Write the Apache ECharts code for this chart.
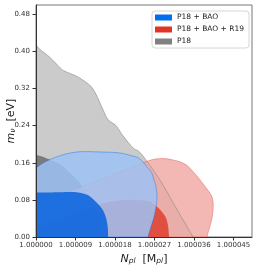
<!DOCTYPE html>
<html><head><meta charset="utf-8">
<script src="https://cdn.jsdelivr.net/npm/echarts@6/dist/echarts.min.js"></script>
<style>html,body{margin:0;padding:0;background:#fff}#c{width:260px;height:270px}</style>
</head><body><div id="c"></div>
<script>
// x values are (N_pl - 1) in units of 1e-6 ; y values are m_nu in eV
const legendNames = ['P18 + BAO', 'P18 + BAO + R19', 'P18'];
const xTicks = [0, 9, 18, 27, 36, 45];
const yTicks = [0, 0.08, 0.16, 0.24, 0.32, 0.40, 0.48];

const p18Outer = [[0,0.415],[0.91,0.404],[3.19,0.387],[5.47,0.365],[6.61,0.357],[9.34,0.346],[11.16,0.335],[12.76,0.322],[13.90,0.303],[15.04,0.279],[16.40,0.253],[18.23,0.240],[19.82,0.218],[22.10,0.192],[23.70,0.182],[26.66,0.145],[28.94,0.112],[31.21,0.074],[33.49,0.037],[35.77,0]];
const p18Inner = [[0,0.177],[2.05,0.171],[4.10,0.163],[5.92,0.154],[7.75,0.138],[9.80,0.119],[11.39,0.097],[13.21,0.071],[14.58,0.041],[15.49,0]];
const r19Outer = [[0,0.069],[25.52,0.164],[27.11,0.168],[29.39,0.169],[31.21,0.166],[32.81,0.162],[34.40,0.154],[35.77,0.141],[37.37,0.123],[38.73,0.106],[39.87,0.091],[40.33,0.076],[40.33,0.058],[40.10,0.041],[39.64,0.024],[39.19,0.009],[38.96,0]];
const r19Inner = [[0,0.019],[3.19,0.030],[6.61,0.043],[10.03,0.056],[13.44,0.067],[16.86,0.076],[20.28,0.080],[23.70,0.079],[25.97,0.076],[27.57,0.065],[28.71,0.054],[29.62,0.041],[30.08,0.024],[30.30,0]];
const baoOuter = [[0,0.149],[1.37,0.158],[2.96,0.166],[4.78,0.173],[6.84,0.179],[9.11,0.183],[11.39,0.184],[15.27,0.183],[18.23,0.182],[20.28,0.179],[21.87,0.175],[23.24,0.171],[24.38,0.162],[25.29,0.151],[26.20,0.141],[26.66,0.130],[27.34,0.108],[27.57,0.086],[27.34,0.065],[26.89,0.043],[26.20,0.022],[25.52,0]];
const baoInner = [[0,0.096],[3.19,0.096],[7.52,0.097],[9.57,0.096],[10.94,0.093],[12.08,0.089],[13.21,0.080],[14.13,0.071],[15.04,0.061],[15.72,0.048],[16.18,0.032],[16.40,0.015],[16.40,0]];
const origin = [0, 0];

// smooth curve through the read points (Catmull-Rom), closed along the axes
function curvePath(api, pts, close) {
  const P = pts.map(p => api.coord(p));
  let d = 'M' + P[0][0] + ' ' + P[0][1];
  for (let i = 0; i < P.length - 1; i++) {
    const p0 = P[Math.max(i - 1, 0)], p1 = P[i], p2 = P[i + 1], p3 = P[Math.min(i + 2, P.length - 1)];
    const c1 = [p1[0] + (p2[0] - p0[0]) / 6, p1[1] + (p2[1] - p0[1]) / 6];
    const c2 = [p2[0] - (p3[0] - p1[0]) / 6, p2[1] - (p3[1] - p1[1]) / 6];
    d += ' C' + c1[0] + ' ' + c1[1] + ' ' + c2[0] + ' ' + c2[1] + ' ' + p2[0] + ' ' + p2[1];
  }
  if (close) {
    const o = api.coord(origin);
    d += ' L' + o[0] + ' ' + o[1] + ' Z';
  }
  return d;
}

function region(name, pts, fill, stroke, lw, straightFirst) {
  return {
    type: 'custom', name: name, coordinateSystem: 'cartesian2d', silent: true, z: 2, clip: true,
    data: [[pts[0][0], pts[0][1]]],
    renderItem: function (params, api) {
      let d;
      if (straightFirst) {
        const a = api.coord(pts[0]);
        d = 'M' + a[0] + ' ' + a[1] + curvePath(api, pts.slice(1), true).replace(/^M/, ' L');
      } else {
        d = curvePath(api, pts, true);
      }
      return { type: 'path', shape: { pathData: d },
        style: { fill: fill, stroke: stroke || null, lineWidth: lw || 0 } };
    }
  };
}
function edge(name, pts, stroke, lw) {
  return {
    type: 'custom', name: name, coordinateSystem: 'cartesian2d', silent: true, z: 2, clip: true,
    data: [[pts[0][0], pts[0][1]]],
    renderItem: function (params, api) {
      return { type: 'path', shape: { pathData: curvePath(api, pts, false) },
        style: { fill: null, stroke: stroke, lineWidth: lw } };
    }
  };
}

const chart = echarts.init(document.getElementById('c'), null, { renderer: 'canvas' });
const tickFont = { fontFamily: 'DejaVu Sans', fontSize: 7, color: '#333' };
chart.setOption({
  animation: false,
  grid: { left: 36, right: 8, top: 5, bottom: 33, outerBoundsMode: 'none', containLabel: false,
    show: true, borderColor: '#777', borderWidth: 1, backgroundColor: 'transparent' },
  legend: {
    show: true, orient: 'vertical', right: 11, top: 11, selectedMode: false,
    itemWidth: 17, itemHeight: 6, itemGap: 3, padding: [2, 5, 2, 3],
    backgroundColor: '#fff', borderColor: '#d6d6d6', borderWidth: 1, borderRadius: 3,
    textStyle: { fontFamily: 'DejaVu Sans', fontSize: 7.5, color: '#222', lineHeight: 9 },
    data: [
      { name: legendNames[0], icon: 'rect', itemStyle: { color: '#006FED' } },
      { name: legendNames[1], icon: 'rect', itemStyle: { color: '#E03424' } },
      { name: legendNames[2], icon: 'rect', itemStyle: { color: '#808080' } }
    ]
  },
  xAxis: {
    type: 'value', min: 0, max: 49.2, z: 10,
    axisLine: { show: true, lineStyle: { color: '#333', width: 1 } },
    axisTick: { show: true, length: 3.5, lineStyle: { color: '#333' }, customValues: xTicks },
    axisLabel: { ...tickFont, margin: 5, customValues: xTicks,
      formatter: v => '1.' + String(Math.round(v)).padStart(6, '0') },
    splitLine: { show: false },
    name: '{i|N}{s|pl}{t|  [M}{s2|pl}{t|]}', nameLocation: 'middle', nameGap: 13,
    nameTextStyle: { rich: {
      i: { fontFamily: 'DejaVu Sans', fontStyle: 'italic', fontSize: 11, color: '#222', verticalAlign: 'bottom', lineHeight: 14 },
      s: { fontFamily: 'DejaVu Sans', fontStyle: 'italic', fontSize: 7.5, color: '#222', verticalAlign: 'bottom', lineHeight: 11 },
      s2: { fontFamily: 'DejaVu Sans', fontStyle: 'italic', fontSize: 7.5, color: '#222', verticalAlign: 'bottom', lineHeight: 11 },
      t: { fontFamily: 'DejaVu Sans', fontSize: 11, color: '#222', verticalAlign: 'bottom', lineHeight: 14 }
    } }
  },
  yAxis: {
    type: 'value', min: 0, max: 0.5, z: 10,
    axisLine: { show: true, lineStyle: { color: '#333', width: 1 } },
    axisTick: { show: true, length: 3.5, lineStyle: { color: '#333' }, customValues: yTicks },
    axisLabel: { ...tickFont, margin: 6, customValues: yTicks, formatter: v => v.toFixed(2) },
    splitLine: { show: false },
    name: '{i|m}{s|ν}{t|  [eV]}', nameLocation: 'middle', nameGap: 26, nameRotate: 90, nameMoveOverlap: false,
    nameTextStyle: { verticalAlign: 'middle', rich: {
      i: { fontFamily: 'DejaVu Sans', fontStyle: 'italic', fontSize: 11, color: '#222', verticalAlign: 'bottom', lineHeight: 14 },
      s: { fontFamily: 'DejaVu Sans', fontStyle: 'italic', fontSize: 7.5, color: '#222', verticalAlign: 'bottom', lineHeight: 11 },
      t: { fontFamily: 'DejaVu Sans', fontSize: 11, color: '#222', verticalAlign: 'bottom', lineHeight: 14 }
    } }
  },
  series: [
    region(legendNames[2], p18Outer, '#cbcbcb', null, 0),
    region(legendNames[2], p18Inner, '#7b7b7b', null, 0),
    region(legendNames[1], r19Outer, 'rgba(241,166,161,0.8)', 'rgba(224,52,36,0.45)', 0.8, true),
    region(legendNames[1], r19Inner, 'rgba(224,70,55,0.92)', null, 0),
    edge(legendNames[2], p18Outer, 'rgba(140,140,140,0.8)', 0.8),
    region(legendNames[0], baoOuter, 'rgba(158,194,245,0.85)', 'rgba(0,111,237,0.5)', 0.8),
    region(legendNames[0], baoInner, 'rgba(16,102,222,0.9)', null, 0)
  ]
});
</script></body></html>
